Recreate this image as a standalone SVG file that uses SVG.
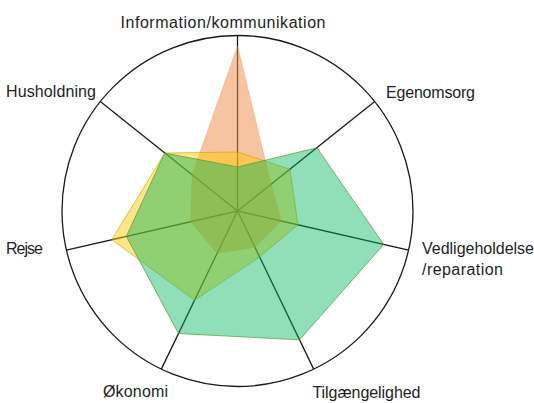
<svg xmlns="http://www.w3.org/2000/svg" width="534" height="403" viewBox="0 0 534 403">
<style>
.grid{fill:none;stroke:#1a1a1a;stroke-width:1.3}
.axis{stroke:#1a1a1a;stroke-width:1.3}
.lbl{font-family:"Liberation Sans",Arial,sans-serif;font-size:16px;fill:#1e1e1e}
.s-orange{fill:#F08A45;fill-opacity:0.5;stroke:#ED7D31;stroke-opacity:0.3;stroke-width:1}
.s-yellow{fill:#FFC800;fill-opacity:0.48;stroke:#C9A000;stroke-opacity:0.6;stroke-width:1}
.s-teal{fill:#00B45A;fill-opacity:0.43;stroke:#4E9A35;stroke-opacity:0.7;stroke-width:1}
</style>
<rect width="534" height="403" fill="#ffffff"/>
<g id="grid">
<circle class="grid" cx="237.5" cy="211" r="175.5"/>
</g>
<g id="connectors">
<line class="axis" x1="237.5" y1="211" x2="237.5" y2="35.5"/>
<line class="axis" x1="237.5" y1="211" x2="374.71" y2="101.58"/>
<line class="axis" x1="237.5" y1="211" x2="408.6" y2="250.05"/>
<line class="axis" x1="237.5" y1="211" x2="313.65" y2="369.12"/>
<line class="axis" x1="237.5" y1="211" x2="161.35" y2="369.12"/>
<line class="axis" x1="237.5" y1="211" x2="66.4" y2="250.05"/>
<line class="axis" x1="237.5" y1="211" x2="100.29" y2="101.58"/>
</g>
<g id="series-orange">
<polygon class="s-orange" points="237.5,46 271.12,184.19 281.37,221.01 254.86,247.04 217.11,253.35 190.7,221.68 192.15,174.84"/>
</g>
<g id="series-yellow">
<polygon class="s-yellow" points="237.5,152 289.88,169.23 297.95,224.8 259.63,256.95 194.55,300.2 111.73,239.71 164.79,153.02"/>
</g>
<g id="series-teal">
<polygon class="s-teal" points="237.5,167 316.86,147.72 383.74,244.38 299.54,339.84 178.49,333.53 126.36,236.37 164.79,153.02"/>
</g>
<g id="label-information">
<text class="lbl" x="120.5" y="28" textLength="205">Information/kommunikation</text>
</g>
<g id="label-egenomsorg">
<text class="lbl" x="386" y="98" textLength="89">Egenomsorg</text>
</g>
<g id="label-vedligeholdelse">
<text class="lbl" x="422" y="254" textLength="112">Vedligeholdelse</text>
<text class="lbl" x="422" y="275" textLength="81">/reparation</text>
</g>
<g id="label-tilgaengelighed">
<text class="lbl" x="312.5" y="398" textLength="108">Tilgængelighed</text>
</g>
<g id="label-okonomi">
<text class="lbl" x="103" y="397" textLength="65">Økonomi</text>
</g>
<g id="label-rejse">
<text class="lbl" x="6" y="253.5" textLength="37">Rejse</text>
</g>
<g id="label-husholdning">
<text class="lbl" x="6" y="97" textLength="90">Husholdning</text>
</g>
</svg>
